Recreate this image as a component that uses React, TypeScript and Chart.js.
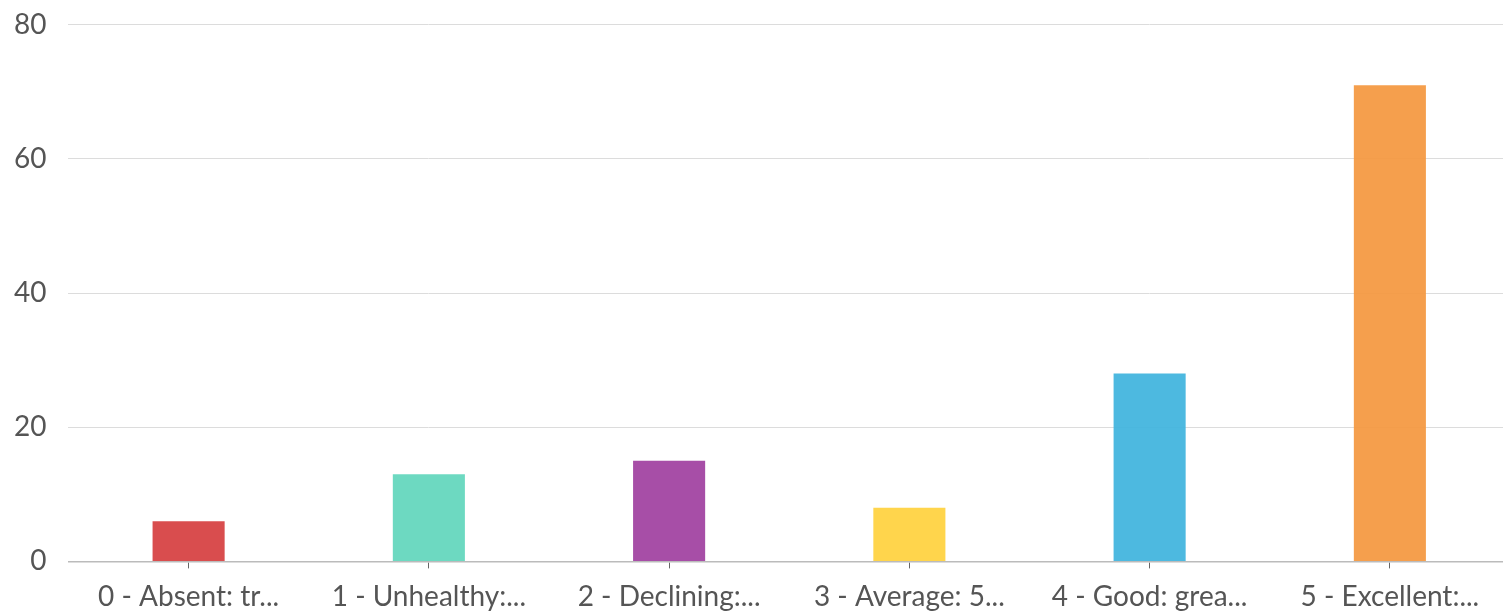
import React, { useEffect, useRef } from "react";
import { Chart, registerables } from "chart.js";

Chart.register(...registerables);

const categories = [
  "0 - Absent: tr...",
  "1 - Unhealthy:...",
  "2 - Declining:...",
  "3 - Average: 5...",
  "4 - Good: grea...",
  "5 - Excellent:...",
];
const values = [6, 13, 15, 8, 28, 71];
const barColors = [
  "rgba(214, 64, 65, 0.93)",
  "rgba(98, 214, 188, 0.93)",
  "rgba(160, 65, 160, 0.93)",
  "rgba(255, 210, 62, 0.93)",
  "rgba(64, 180, 222, 0.93)",
  "rgba(244, 152, 64, 0.93)",
];
const yTicks = [0, 20, 40, 60, 80];

export default function App() {
  const ref = useRef<HTMLCanvasElement | null>(null);
  useEffect(() => {
    if (!ref.current) return;
    const family = "Lato, 'Open Sans', sans-serif";
    const chart = new Chart(ref.current, {
      type: "bar",
      data: {
        labels: categories,
        datasets: [
          {
            data: values,
            backgroundColor: barColors,
            borderWidth: 0,
            barPercentage: 0.3,
            categoryPercentage: 1,
          },
        ],
      },
      options: {
        animation: false,
        responsive: false,
        maintainAspectRatio: false,
        layout: { padding: { top: 0, right: 0, left: 0, bottom: 3 } },
        plugins: { legend: { display: false }, tooltip: { enabled: false } },
        scales: {
          x: {
            grid: {
              display: true,
              offset: false,
              drawOnChartArea: false,
              drawTicks: true,
              tickLength: 7,
              color: "#666",
            },
            border: { display: true, color: "#bbb", width: 1.5 },
            ticks: {
              color: "#555",
              font: { family, size: 28 },
              maxRotation: 0,
              autoSkip: false,
              padding: 12,
            },
          },
          y: {
            min: 0,
            max: 80,
            afterBuildTicks: (axis: any) => {
              axis.ticks = yTicks.map((v) => ({ value: v }));
            },
            grid: { color: "#dcdcdc", drawTicks: false, lineWidth: 1 },
            border: { display: false },
            ticks: { color: "#555", font: { family, size: 28 }, padding: 22 },
          },
        },
      },
    });
    return () => chart.destroy();
  }, []);
  return (
    <div style={{ position: "fixed", left: 0, top: 0, width: 1503, height: 613, background: "#fff", overflow: "hidden" }}>
      <canvas
        ref={ref}
        width={1518}
        height={643}
        style={{ display: "block", position: "absolute", left: -8, top: -14 }}
      />
    </div>
  );
}
